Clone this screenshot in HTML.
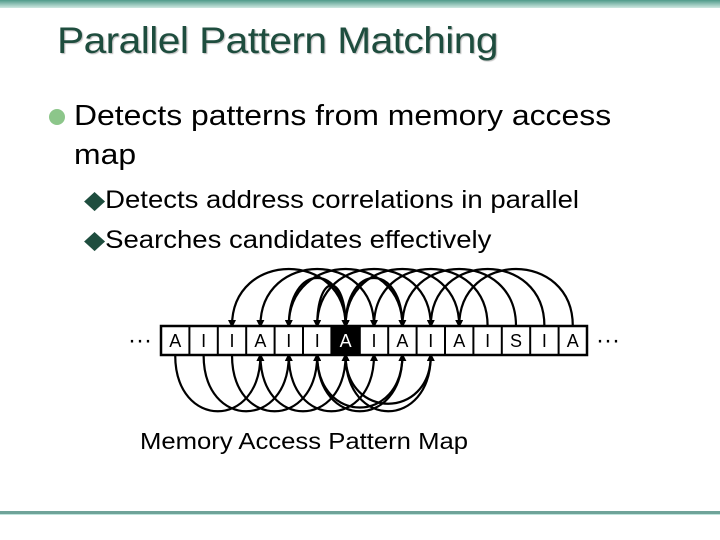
<!DOCTYPE html>
<html><head><meta charset="utf-8"><style>
body{margin:0;width:720px;height:540px;background:#fff;position:relative;overflow:hidden;font-family:"Liberation Sans",sans-serif}
.top{position:absolute;left:0;top:0;width:720px;height:8px;background:linear-gradient(#4f9a8a,#cfe8e2)}
.t{position:absolute;left:57px;top:20px;font-size:37px;color:#1e4d3e;text-shadow:1px 1px 1px #bbb;letter-spacing:-0.5px;transform:scaleX(1.1);transform-origin:0 0;white-space:nowrap}
.b{position:absolute;font-size:29px;color:#000;transform:scaleX(1.1);transform-origin:0 0;white-space:nowrap}
.s{position:absolute;font-size:25px;color:#000;transform:scaleX(1.1);transform-origin:0 0;white-space:nowrap}
.dot{position:absolute;left:49px;top:109px;width:16px;height:16px;border-radius:50%;background:#8cc68a}
.line{position:absolute;left:0;top:511px;width:720px;height:3px;background:#6fa399;border-bottom:1px solid #bfe4dc}
</style></head><body>
<div class="top"></div>
<div class="t">Parallel Pattern Matching</div>
<div class="dot"></div>
<div class="b" style="left:74px;top:100px">Detects patterns from memory access</div>
<div class="b" style="left:74px;top:139px">map</div>
<div class="s" style="left:84px;top:185px"><span style="color:#1e4d3e">◆</span>Detects address correlations in parallel</div>
<div class="s" style="left:84px;top:225px"><span style="color:#1e4d3e">◆</span>Searches candidates effectively</div>
<svg width="720" height="540" style="position:absolute;left:0;top:0">
<defs><marker id="a" markerWidth="8" markerHeight="8" refX="6" refY="4" orient="auto" markerUnits="userSpaceOnUse"><path d="M0,0 L8,4 L0,8 Z"/></marker></defs>
<g fill="none" stroke="#000" stroke-width="2.2" marker-end="url(#a)">
<path d="M345.6 326 C345.6 250,232 250,232 326"/>
<path d="M374 326 C374 250,260.4 250,260.4 326"/>
<path d="M402.4 326 C402.4 250,288.8 250,288.8 326"/>
<path d="M430.8 326 C430.8 250,317.2 250,317.2 326"/>
<path d="M459.2 326 C459.2 250,345.6 250,345.6 326"/>
<path d="M487.6 326 C487.6 250,374 250,374 326"/>
<path d="M516 326 C516 250,402.4 250,402.4 326"/>
<path d="M544.4 326 C544.4 250,430.8 250,430.8 326"/>
<path d="M572.8 326 C572.8 250,459.2 250,459.2 326"/>
<path d="M288.8 326 C288.8 262,345.6 262,345.6 326"/>
<path d="M402.4 326 C402.4 262,345.6 262,345.6 326"/>
<path d="M317.2 326 C317.2 272,345.6 272,345.6 326"/>
<path d="M175.2 355 C175.2 430,260.4 430,260.4 355"/>
<path d="M203.6 355 C203.6 430,288.8 430,288.8 355"/>
<path d="M232 355 C232 430,317.2 430,317.2 355"/>
<path d="M260.4 355 C260.4 430,345.6 430,345.6 355"/>
<path d="M288.8 355 C288.8 430,374 430,374 355"/>
<path d="M317.2 355 C317.2 430,402.4 430,402.4 355"/>
<path d="M345.6 355 C345.6 430,430.8 430,430.8 355"/>
<path d="M430.8 355 C430.8 420,345.6 420,345.6 355"/>
<path d="M402.4 355 C402.4 425,317.2 425,317.2 355"/>
</g>
<g stroke="#000" stroke-width="2.5" fill="#fff">
<rect x="161" y="326" width="426" height="29"/>
</g>
<rect x="331.4" y="326" width="28.4" height="29" fill="#000"/>
<g stroke="#000" stroke-width="2">
<line x1="189.4" y1="326" x2="189.4" y2="355"/><line x1="217.8" y1="326" x2="217.8" y2="355"/><line x1="246.2" y1="326" x2="246.2" y2="355"/><line x1="274.6" y1="326" x2="274.6" y2="355"/><line x1="303" y1="326" x2="303" y2="355"/><line x1="331.4" y1="326" x2="331.4" y2="355"/><line x1="359.8" y1="326" x2="359.8" y2="355"/><line x1="388.2" y1="326" x2="388.2" y2="355"/><line x1="416.6" y1="326" x2="416.6" y2="355"/><line x1="445" y1="326" x2="445" y2="355"/><line x1="473.4" y1="326" x2="473.4" y2="355"/><line x1="501.8" y1="326" x2="501.8" y2="355"/><line x1="530.2" y1="326" x2="530.2" y2="355"/><line x1="558.6" y1="326" x2="558.6" y2="355"/>
</g>
<g font-family="Liberation Sans,sans-serif" font-size="18" text-anchor="middle">
<text x="175.2" y="347">A</text><text x="203.6" y="347">I</text><text x="232" y="347">I</text><text x="260.4" y="347">A</text><text x="288.8" y="347">I</text><text x="317.2" y="347">I</text><text x="345.6" y="347" fill="#fff">A</text><text x="374" y="347">I</text><text x="402.4" y="347">A</text><text x="430.8" y="347">I</text><text x="459.2" y="347">A</text><text x="487.6" y="347">I</text><text x="516" y="347">S</text><text x="544.4" y="347">I</text><text x="572.8" y="347">A</text>
<text x="140" y="348" font-size="24">···</text><text x="608" y="348" font-size="24">···</text>
</g>
<text x="140" y="449" font-family="Liberation Sans,sans-serif" font-size="23" textLength="328" lengthAdjust="spacingAndGlyphs">Memory Access Pattern Map</text>
</svg>
<div class="line"></div>
</body></html>
